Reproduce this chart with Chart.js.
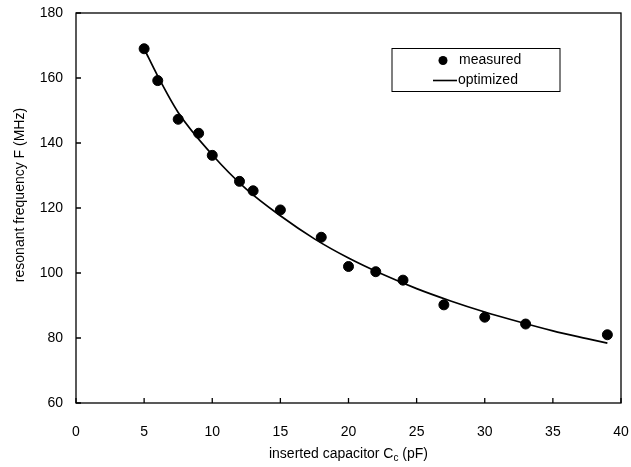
<!DOCTYPE html>
<html>
<head>
<meta charset="utf-8">
<script src="https://cdn.jsdelivr.net/npm/chart.js@4.4.0/dist/chart.umd.min.js"></script>
<style>
  html, body { margin: 0; padding: 0; background: #fff; }
  #wrap { width: 631px; height: 467px; position: relative; }
</style>
</head>
<body>
<div id="wrap"><canvas id="graphCanvas"></canvas></div>
<script>
// measured points
const measuredC = [5, 6, 7.5, 9, 10, 12, 13, 15, 18, 20, 22, 24, 27, 30, 33, 39];
const measuredF = [169, 159.2, 147.3, 143, 136.2, 128.2, 125.3, 119.4, 111, 102, 100.4, 97.8, 90.2, 86.4, 84.3, 81];

// optimized curve, read at a few spots along the line
const optimizedC = [5, 6, 7.5, 10, 12.5, 15, 17.5, 20, 22.5, 25, 27.5, 30, 32.5, 35, 37.5, 39];
const optimizedF = [169, 160.6, 149.4, 136.4, 125.8, 117.6, 110.5, 104.6, 99.6, 95.2, 91.4, 88, 85, 82.2, 79.8, 78.4];

const xTicks = [0, 5, 10, 15, 20, 25, 30, 35, 40];
const yTicks = [60, 80, 100, 120, 140, 160, 180];

const FONT = "'Liberation Sans', Arial, sans-serif";

// frame, inward ticks, axis titles, and the boxed legend
const decor = {
  id: "decor",
  afterDraw(chart) {
    const ctx = chart.ctx;
    const a = chart.chartArea;
    const xs = chart.scales.x, ys = chart.scales.y;
    ctx.save();
    ctx.strokeStyle = "#000";
    ctx.lineWidth = 1.3;
    ctx.strokeRect(a.left, a.top, a.right - a.left, a.bottom - a.top);
    ctx.beginPath();
    xTicks.forEach(v => {
      const px = xs.getPixelForValue(v);
      ctx.moveTo(px, a.bottom);
      ctx.lineTo(px, a.bottom - 5);
    });
    yTicks.forEach(v => {
      const py = ys.getPixelForValue(v);
      ctx.moveTo(a.left, py);
      ctx.lineTo(a.left + 5, py);
    });
    ctx.stroke();

    // x axis title, C with subscript c
    ctx.fillStyle = "#000";
    ctx.textBaseline = "alphabetic";
    const p1 = "inserted capacitor C", p2 = "c", p3 = " (pF)";
    ctx.font = "14px " + FONT;
    const w1 = ctx.measureText(p1).width, w3 = ctx.measureText(p3).width;
    ctx.font = "10px " + FONT;
    const w2 = ctx.measureText(p2).width;
    const total = w1 + w2 + w3;
    let x0 = (a.left + a.right) / 2 - total / 2;
    const yb = 458;
    ctx.textAlign = "left";
    ctx.font = "14px " + FONT;
    ctx.fillText(p1, x0, yb);
    ctx.font = "10px " + FONT;
    ctx.fillText(p2, x0 + w1, yb + 3);
    ctx.font = "14px " + FONT;
    ctx.fillText(p3, x0 + w1 + w2, yb);

    // y axis title
    ctx.save();
    ctx.translate(20, 195);
    ctx.rotate(-Math.PI / 2);
    ctx.textAlign = "center";
    ctx.textBaseline = "middle";
    ctx.font = "14px " + FONT;
    ctx.fillText("resonant frequency F (MHz)", 0, 0);
    ctx.restore();

    // legend box
    ctx.lineWidth = 1;
    ctx.strokeRect(392, 48.5, 168, 43);
    ctx.beginPath();
    ctx.arc(443, 60.5, 4.5, 0, Math.PI * 2);
    ctx.fill();
    ctx.lineWidth = 1.6;
    ctx.beginPath();
    ctx.moveTo(433, 80.5);
    ctx.lineTo(457, 80.5);
    ctx.stroke();
    ctx.font = "14px " + FONT;
    ctx.textAlign = "left";
    ctx.textBaseline = "middle";
    ctx.fillText(chart.data.datasets[0].label, 459, 60.5);
    ctx.fillText(chart.data.datasets[1].label, 458, 80.5);
    ctx.restore();
  }
};

const ctx = document.getElementById("graphCanvas").getContext("2d");
new Chart(ctx, {
  type: "scatter",
  data: {
    datasets: [
      {
        label: "measured",
        data: measuredC.map((c, i) => ({ x: c, y: measuredF[i] })),
        backgroundColor: "#000",
        borderColor: "#000",
        pointRadius: 5,
        showLine: false,
        order: 1,
      },
      {
        label: "optimized",
        data: optimizedC.map((c, i) => ({ x: c, y: optimizedF[i] })),
        borderColor: "#000",
        borderWidth: 1.7,
        pointRadius: 0,
        showLine: true,
        tension: 0.4,
        cubicInterpolationMode: "monotone",
        order: 2,
      },
    ],
  },
  options: {
    responsive: true,
    maintainAspectRatio: false,
    animation: false,
    layout: { padding: { top: 13, right: 10, left: 0, bottom: 0 } },
    scales: {
      x: {
        type: "linear",
        min: 0,
        max: 40,
        afterBuildTicks: s => { s.ticks = xTicks.map(v => ({ value: v })); },
        afterFit: s => { s.height = 64; s.paddingLeft = 0; s.paddingRight = 0; },
        grid: { display: false, drawTicks: false },
        border: { display: false },
        ticks: { color: "#000", font: { size: 14, family: FONT }, padding: 21 },
      },
      y: {
        min: 60,
        max: 180,
        afterBuildTicks: s => { s.ticks = yTicks.map(v => ({ value: v })); },
        afterFit: s => { s.width = 76; s.paddingTop = 0; s.paddingBottom = 0; },
        grid: { display: false, drawTicks: false },
        border: { display: false },
        ticks: { color: "#000", font: { size: 14, family: FONT }, padding: 13 },
      },
    },
    plugins: {
      legend: { display: false },
      tooltip: { enabled: false },
    },
  },
  plugins: [decor],
});
</script>
</body>
</html>
